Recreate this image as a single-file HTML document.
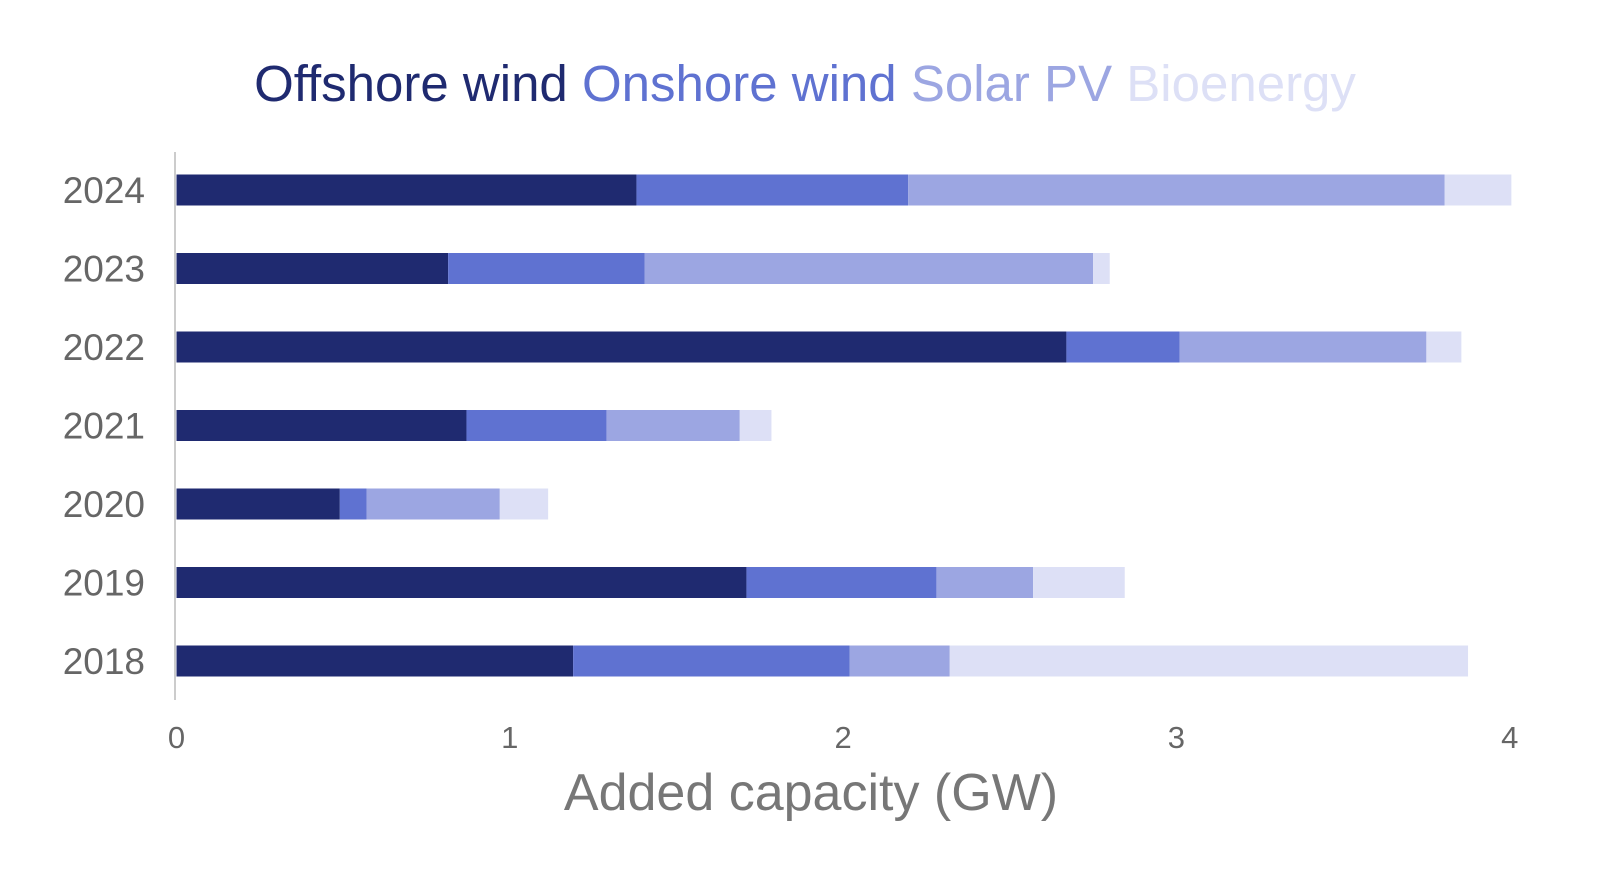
<!DOCTYPE html>
<html><head><meta charset="utf-8"><style>
body{margin:0;background:#fff;font-family:"Liberation Sans",sans-serif}
svg{display:block}
</style></head><body>
<svg id="chart" width="1600" height="890" xmlns="http://www.w3.org/2000/svg">
<text x="805" y="101" text-anchor="middle" font-size="51" font-family="Liberation Sans, sans-serif"><tspan fill="#1f2a70">Offshore wind</tspan> <tspan fill="#5f72d1">Onshore wind</tspan> <tspan fill="#9ca6e2">Solar PV</tspan> <tspan fill="#dde0f6">Bioenergy</tspan></text>
<g id="bars"></g>
<line x1="175" y1="152" x2="175" y2="700" stroke="#ccc" stroke-width="2"/>
<g id="ticks"></g>
<text x="811" y="810" text-anchor="middle" font-size="52" fill="#777">Added capacity (GW)</text>
</svg>
<script>
const years = ["2024","2023","2022","2021","2020","2019","2018"];
const offshore = [1.38,0.815,2.67,0.87,0.49,1.71,1.19];
const onshore = [0.815,0.59,0.34,0.42,0.08,0.57,0.83];
const solar = [1.61,1.345,0.74,0.40,0.40,0.29,0.30];
const bio = [0.2,0.05,0.105,0.095,0.145,0.275,1.555];
const xTicks = [0,1,2,3,4];
const seriesNames = ["offshore-wind","onshore-wind","solar-pv","bioenergy"];
const colors = ["#1f2a70","#5f72d1","#9ca6e2","#dde0f6"];
const NS="http://www.w3.org/2000/svg";
const x = v => 176.5 + v*333.3;
const y = i => 190 + i*78.5;
const bh = 31;
const bars = document.getElementById('bars');
const series=[offshore,onshore,solar,bio];
years.forEach((yr,i)=>{
  let acc=0;
  series.forEach((s,k)=>{
    const r=document.createElementNS(NS,'rect');
    r.setAttribute('x',x(acc));
    r.setAttribute('y',y(i)-bh/2);
    r.setAttribute('width',x(acc+s[i])-x(acc));
    r.setAttribute('height',bh);
    r.setAttribute('fill',colors[k]);
    
    
    bars.appendChild(r);
    acc+=s[i];
  });
  const t=document.createElementNS(NS,'text');
  t.setAttribute('x',145);t.setAttribute('y',y(i)+13);
  t.setAttribute('text-anchor','end');t.setAttribute('font-size','37');t.setAttribute('fill','#666');
  
  
  t.textContent=yr;bars.appendChild(t);
});
const ticks=document.getElementById('ticks');
xTicks.forEach(v=>{
  const t=document.createElementNS(NS,'text');
  t.setAttribute('x',x(v));t.setAttribute('y',748);
  t.setAttribute('text-anchor','middle');t.setAttribute('font-size','31');t.setAttribute('fill','#666');
  
  
  t.textContent=v;ticks.appendChild(t);
});
</script>
</body></html>
